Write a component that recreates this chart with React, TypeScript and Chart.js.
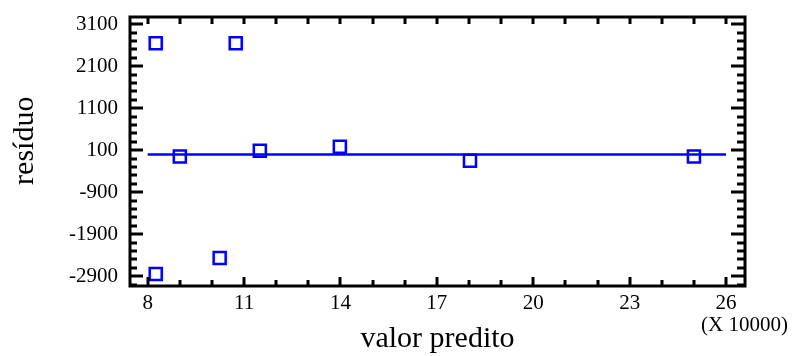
import React, { useEffect, useRef } from 'react';
import { Chart, registerables } from 'chart.js';

Chart.register(...registerables);

// Data (predicted values in units of 10000, residuals)
const predicted = [8.25, 10.74, 9.0, 11.49, 13.98, 18.03, 25.0, 8.25, 10.24];
const residuals = [2650, 2650, -50, 85, 180, -150, -50, -2850, -2470];
const zeroLineX = [8, 26];
const zeroLineY = [0, 0];
const xTicks = [8, 11, 14, 17, 20, 23, 26];
const yTicks = [-2900, -1900, -900, 100, 1100, 2100, 3100];
const xMinorTicks = [8, 9, 10, 11, 12, 13, 14, 15, 16, 17, 18, 19, 20, 21, 22, 23, 24, 25, 26];
const yMinorTicks = [
  -3100, -2900, -2700, -2500, -2300, -2100, -1900, -1700, -1500, -1300, -1100, -900, -700, -500, -300, -100,
  100, 300, 500, 700, 900, 1100, 1300, 1500, 1700, 1900, 2100, 2300, 2500, 2700, 2900, 3100,
];
const xTitle = 'valor predito';
const yTitle = 'resíduo';
const xScaleNote = '(X 10000)';

const FONT = '"Liberation Serif", "Times New Roman", serif';

const framePlugin = {
  id: 'framePlugin',
  afterDraw(chart: any) {
    const { ctx, chartArea } = chart;
    const xs = chart.scales.x;
    const ys = chart.scales.y;
    const { left, right, top, bottom } = chartArea;
    ctx.save();
    ctx.strokeStyle = '#000';
    ctx.lineWidth = 3;
    ctx.lineCap = 'butt';
    ctx.strokeRect(left, top, right - left, bottom - top);
    ctx.beginPath();
    // x ticks
    for (const v of xMinorTicks) {
      const px = Math.round(xs.getPixelForValue(v));
      const major = xTicks.includes(v);
      ctx.moveTo(px, bottom);
      ctx.lineTo(px, bottom - (major ? 9 : 6));
      ctx.moveTo(px, top);
      ctx.lineTo(px, top + 7);
    }
    // y ticks
    for (const v of yMinorTicks) {
      const py = Math.round(ys.getPixelForValue(v));
      if (py < top + 1 || py > bottom - 1) continue;
      const major = yTicks.includes(v);
      ctx.moveTo(left, py);
      ctx.lineTo(left + (major ? 13 : 7), py);
      ctx.moveTo(right, py);
      ctx.lineTo(right - (major ? 14 : 8), py);
    }
    ctx.stroke();

    ctx.fillStyle = '#000';
    // x title
    ctx.font = `30px ${FONT}`;
    ctx.textAlign = 'center';
    ctx.textBaseline = 'alphabetic';
    ctx.fillText(xTitle, (left + right) / 2, 347);
    // y title
    ctx.save();
    ctx.translate(33, top + (bottom - top) * 0.46);
    ctx.rotate(-Math.PI / 2);
    ctx.fillText(yTitle, 0, 0);
    ctx.restore();
    // scale note
    ctx.font = `21px ${FONT}`;
    ctx.textAlign = 'right';
    ctx.textBaseline = 'middle';
    ctx.fillText(xScaleNote, 788, 325);
    ctx.restore();
  },
};

export default function App() {
  const ref = useRef<HTMLCanvasElement>(null);
  useEffect(() => {
    if (!ref.current) return;
    const points = predicted.map((x, i) => ({ x, y: residuals[i] }));
    const line = zeroLineX.map((x, i) => ({ x, y: zeroLineY[i] }));
    const chart = new Chart(ref.current, {
      type: 'scatter',
      data: {
        datasets: [
          {
            data: line,
            showLine: true,
            borderColor: '#0000ff',
            borderWidth: 2.5,
            pointRadius: 0,
            fill: false,
          } as any,
          {
            data: points,
            pointStyle: 'rect',
            pointRadius: 8.5,
            pointBorderWidth: 2.5,
            pointBorderColor: '#0000ff',
            pointBackgroundColor: 'rgba(0,0,0,0)',
            borderColor: '#0000ff',
            backgroundColor: 'rgba(0,0,0,0)',
          } as any,
        ],
      },
      options: {
        animation: false,
        responsive: false,
        maintainAspectRatio: false,
        devicePixelRatio: 1,
        layout: { padding: { left: 0, top: 17, right: 47, bottom: 0 } },
        plugins: { legend: { display: false }, tooltip: { enabled: false }, title: { display: false } },
        scales: {
          x: {
            type: 'linear',
            min: 7.45,
            max: 26.59,
            border: { display: false },
            grid: { display: false, drawTicks: false },
            afterBuildTicks: (s: any) => {
              s.ticks = xTicks.map((v) => ({ value: v }));
            },
            afterFit: (s: any) => {
              s.height = 70;
              s.paddingLeft = 0;
              s.paddingRight = 0;
            },
            ticks: {
              padding: 5,
              color: '#000',
              font: { family: FONT, size: 21 },
              maxRotation: 0,
              autoSkip: false,
              callback: (v: any) => String(v),
            },
          },
          y: {
            type: 'linear',
            min: -3135,
            max: 3274,
            border: { display: false },
            grid: { display: false, drawTicks: false },
            afterBuildTicks: (s: any) => {
              s.ticks = yTicks.map((v) => ({ value: v }));
            },
            afterFit: (s: any) => {
              s.width = 130;
              s.paddingTop = 0;
              s.paddingBottom = 0;
            },
            ticks: {
              padding: 12,
              color: '#000',
              font: { family: FONT, size: 21 },
              autoSkip: false,
              callback: (v: any) => String(v),
            },
          },
        },
      },
      plugins: [framePlugin],
    });
    return () => chart.destroy();
  }, []);
  return (
    <div style={{ position: 'fixed', left: 0, top: 0, width: 792, height: 356, background: '#fff' }}>
      <canvas ref={ref} width={792} height={356} style={{ width: 792, height: 356, display: 'block' }} />
    </div>
  );
}
